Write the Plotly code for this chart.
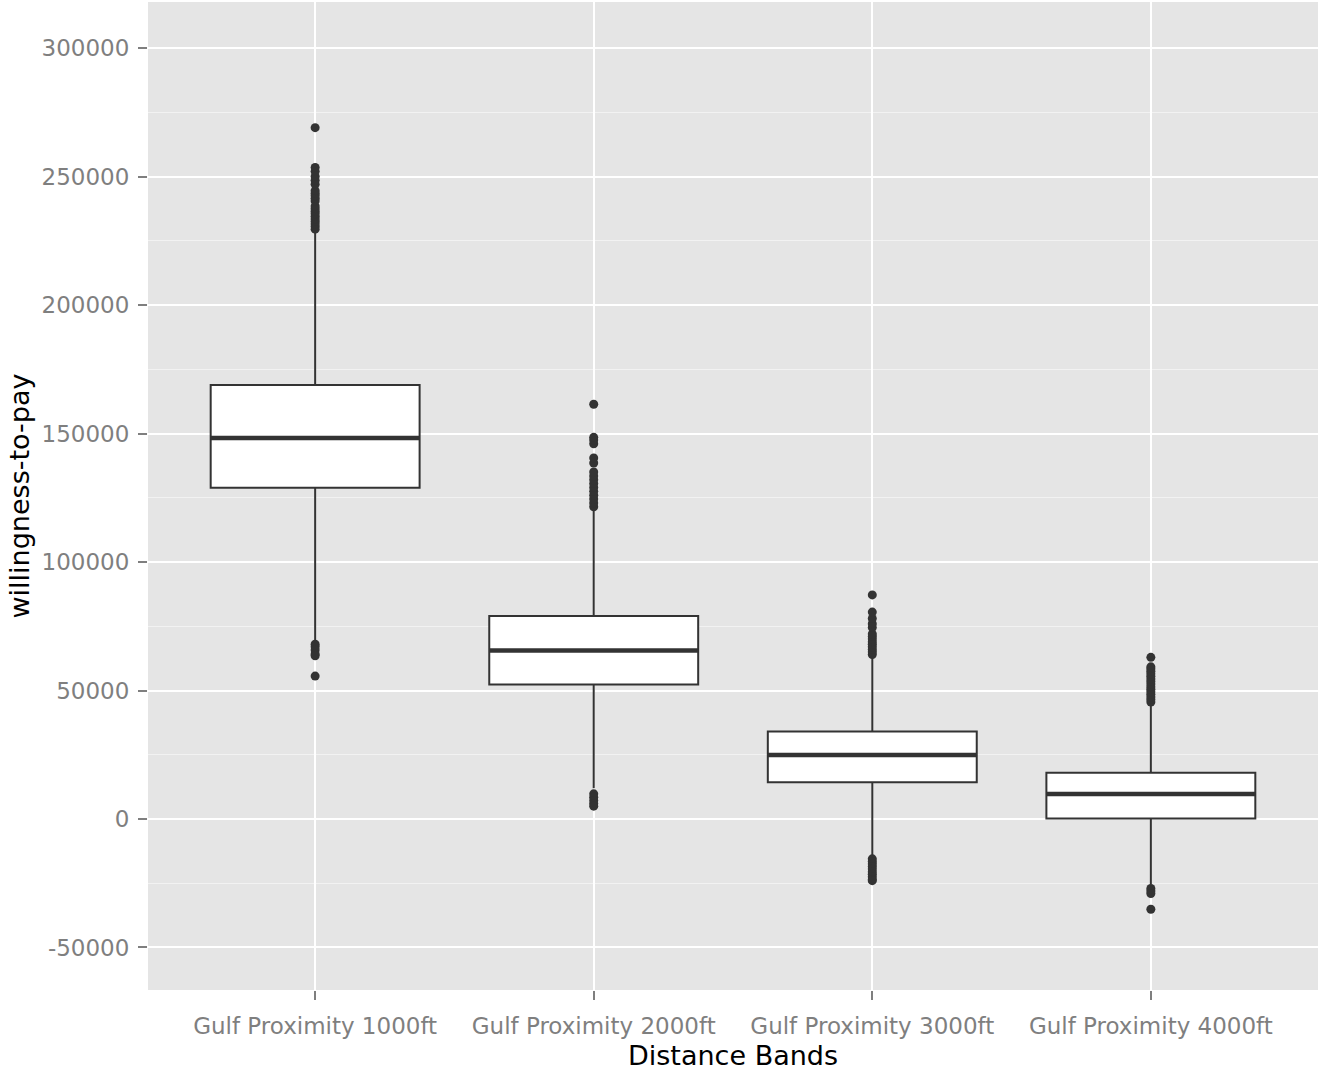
import plotly.graph_objects as go

# Distance bands and the five-number summaries of willingness-to-pay
bands = ["Gulf Proximity 1000ft", "Gulf Proximity 2000ft",
         "Gulf Proximity 3000ft", "Gulf Proximity 4000ft"]
q1 = [128900, 52300, 14300, 200]
median = [148250, 65600, 24900, 9700]
q3 = [168900, 79000, 34000, 18000]
lower_whisker = [69000, 12000, -15000, -25500]
upper_whisker = [228500, 120000, 63300, 44800]

# Observations beyond 1.5 * IQR, per band
outliers = [
    [229500, 230500, 231500, 232500, 233500, 234500, 235500, 236500, 237500,
     238500, 240500, 241500, 242500, 243500, 244500, 247000, 248500, 250000,
     252000, 253500, 269000, 68000, 67000, 65800, 64200, 63500, 55600],
    [121500, 123000, 124500, 126000, 127500, 129000, 130500, 132000, 133500,
     135000, 138500, 140500, 146000, 147500, 148500, 161400,
     9800, 8500, 7200, 6000, 5000],
    [64000, 65000, 66000, 67000, 68000, 69000, 70000, 71000, 72000, 74500,
     76000, 78000, 80500, 87200, -15500, -16500, -17500, -18500, -19500,
     -20500, -21500, -22500, -23500, -24000],
    [45500, 46500, 47500, 48500, 49500, 50500, 51500, 52500, 53500, 54500,
     55500, 56500, 57500, 58500, 59200, 62900, -27000, -28000, -29000, -35100],
]

y_ticks = [-50000, 0, 50000, 100000, 150000, 200000, 250000, 300000]

DARK = "#333333"
BOX_W = 0.75

fig = go.Figure()

fig.add_trace(go.Box(
    x=bands, q1=q1, median=median, q3=q3,
    lowerfence=lower_whisker, upperfence=upper_whisker,
    fillcolor="white", line=dict(color=DARK, width=2),
    whiskerwidth=0, width=BOX_W, boxpoints=False,
    showlegend=False, hoverinfo="skip",
))

out_x, out_y = [], []
for band, vals in zip(bands, outliers):
    out_x += [band] * len(vals)
    out_y += vals
fig.add_trace(go.Scatter(
    x=out_x, y=out_y, mode="markers",
    marker=dict(color=DARK, size=9, line=dict(width=0)),
    showlegend=False, hoverinfo="skip",
))

# Thicker median bars, as in ggplot's default boxplot
for i, m in enumerate(median):
    fig.add_shape(type="line", xref="x", yref="y",
                  x0=i - BOX_W / 2, x1=i + BOX_W / 2, y0=m, y1=m,
                  line=dict(color=DARK, width=4.5), layer="above")

tick_font = dict(family="DejaVu Sans", size=23, color="#7F7F7F")
title_font = dict(family="DejaVu Sans", size=27, color="black")

fig.update_layout(
    width=1318, height=1074,
    margin=dict(l=148, r=0, t=2, b=84),
    paper_bgcolor="white", plot_bgcolor="#E5E5E5",
    xaxis=dict(
        type="category", range=[-0.6, 3.6], automargin=False,
        showgrid=True, gridcolor="white", gridwidth=2,
        ticks="outside", ticklen=9, tickwidth=1.5, tickcolor="#7F7F7F",
        ticklabelstandoff=6,
        tickfont=tick_font, zeroline=False, showline=False,
        title=dict(text="Distance Bands", font=title_font, standoff=8),
    ),
    yaxis=dict(
        range=[-66540, 317900], tickvals=y_ticks, automargin=False,
        ticktext=[str(v) for v in y_ticks],
        showgrid=True, gridcolor="white", gridwidth=2,
        minor=dict(dtick=25000, tick0=0, showgrid=True,
                   gridcolor="#F2F2F2", gridwidth=1.2),
        ticks="outside", ticklen=9, tickwidth=1.5, tickcolor="#7F7F7F",
        ticklabelstandoff=4,
        tickfont=tick_font, zeroline=False, showline=False,
        title=dict(text="willingness-to-pay", font=title_font, standoff=4),
    ),
)

fig.write_html("out.html")
